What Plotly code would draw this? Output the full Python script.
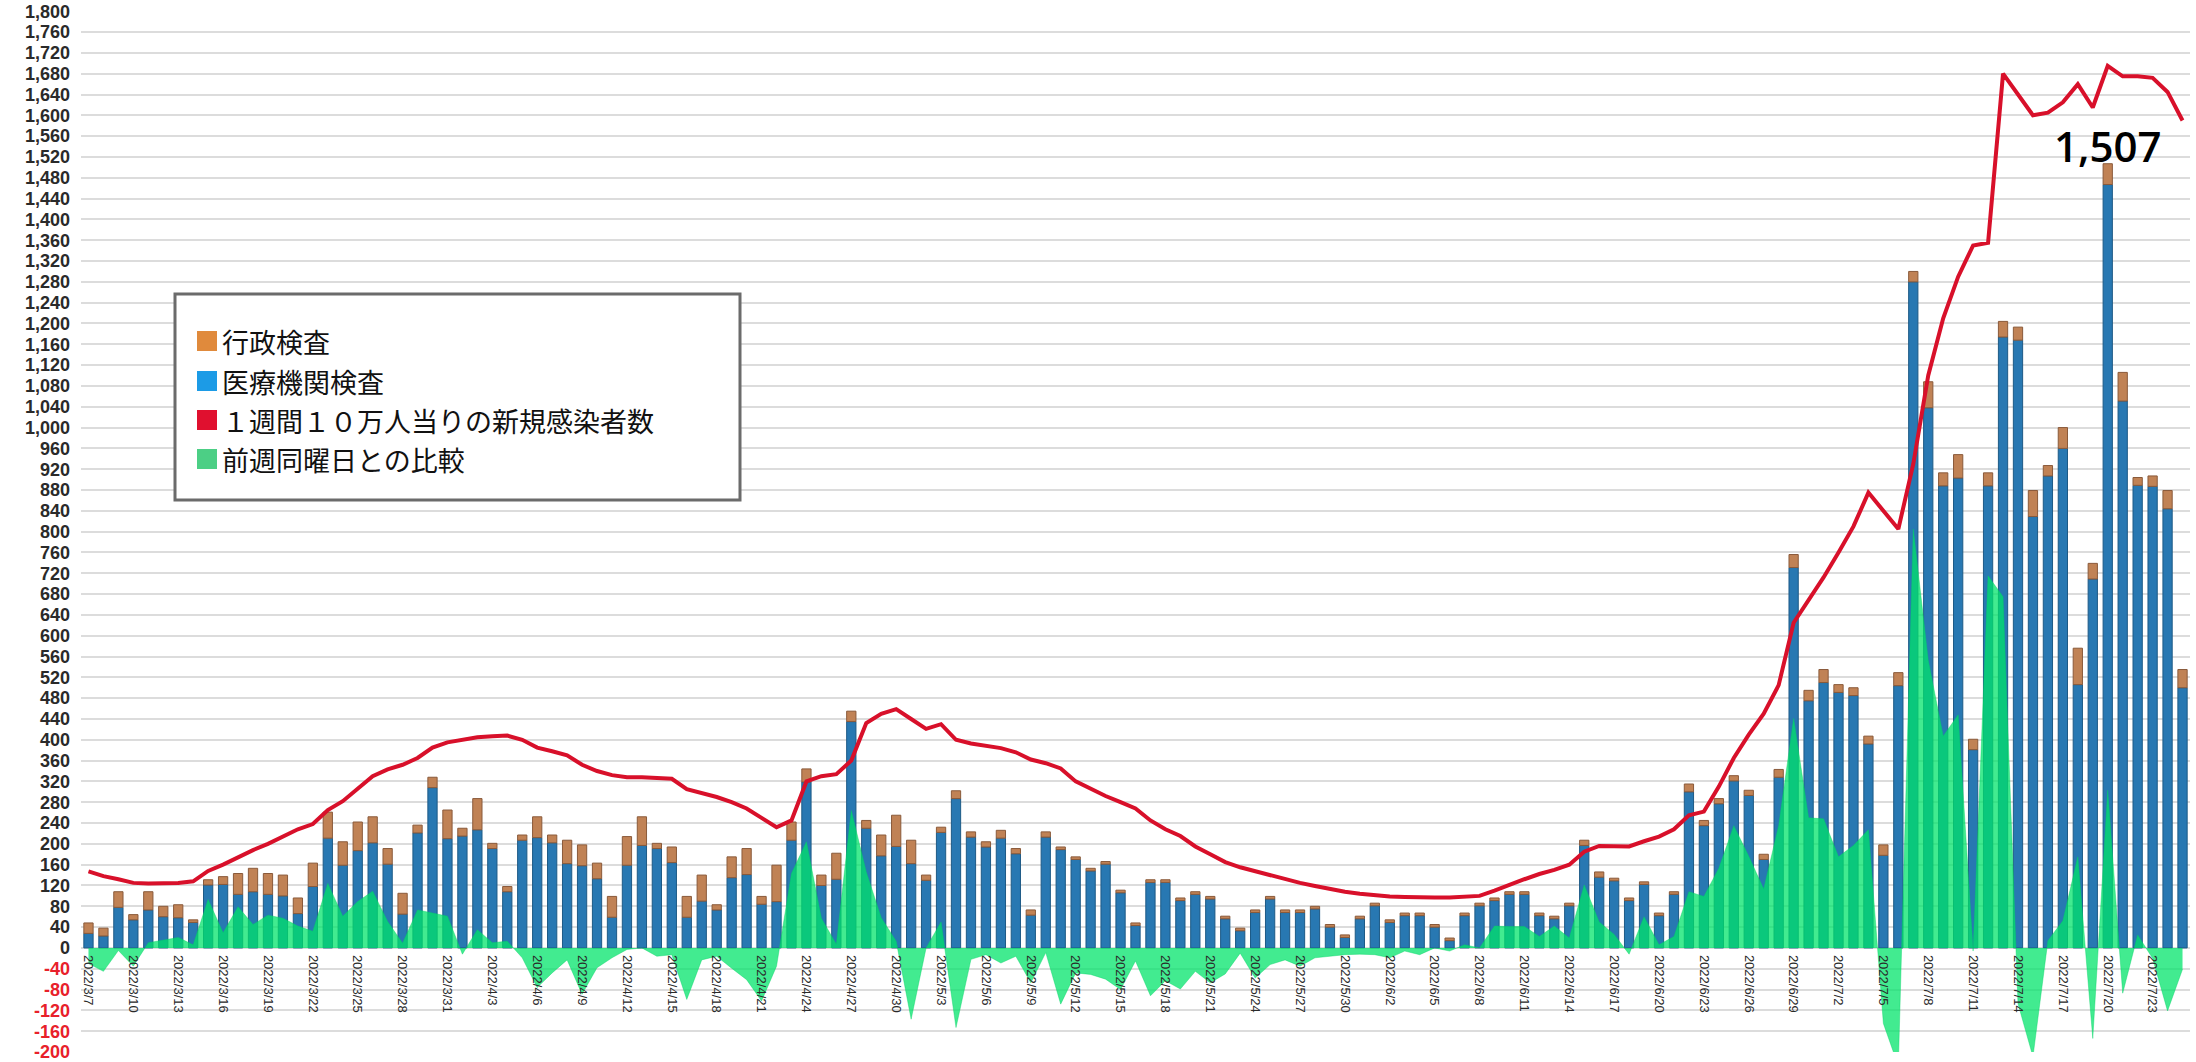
import plotly.graph_objects as go
import pandas as pd

# ---------------- data ----------------
start_date = "2022-03-07"
n_days = 141
dates = pd.date_range(start_date, periods=n_days, freq="D")
categories = [f"{d.year}/{d.month}/{d.day}" for d in dates]
tick_labels = categories[::3]

# 医療機関検査 (blue part of the bars)
medical = [
    28, 23, 78, 54, 73, 60, 58, 49, 121, 122, 103, 108, 103, 100, 66, 118, 211, 159, 187, 202,
    161, 65, 221, 308, 210, 215, 227, 191, 108, 207, 212, 202, 162, 158, 133, 59, 159,
    197, 191, 164, 59, 90, 73, 135, 141, 84, 89, 207, 319, 120, 132, 435, 230, 177, 195, 162,
    130, 222, 287, 213, 194, 211, 181, 63, 213, 189, 170, 148, 161, 106, 43, 126, 126, 91,
    103, 94, 56, 33, 68, 94, 68, 68, 75, 40, 20, 56, 81, 49, 62, 62, 40, 14, 62, 81,
    91, 103, 103, 62, 56, 81, 197, 136, 129, 91, 122, 62, 103, 300, 235, 277,
    321, 293, 170, 328, 731, 475, 510, 491, 485, 392, 178, 504, 1280, 1038, 888, 903, 381, 888,
    1174, 1168, 829, 907, 960, 506, 709, 1467, 1051, 889, 887, 844, 500,
]

# 行政検査 (orange part of the bars)
admin = [
    20, 15, 30, 10, 35, 20, 25, 5, 10, 15, 40, 45, 40, 40, 30, 45, 50, 45, 55, 50,
    30, 40, 15, 20, 55, 15, 60, 10, 10, 10, 40, 15, 45, 40, 30, 40, 55,
    55, 10, 30, 40, 50, 10, 40, 50, 15, 70, 35, 25, 20, 50, 20, 15, 40, 60, 45,
    10, 10, 15, 10, 10, 15, 10, 10, 10, 5, 5, 5, 5, 5, 5, 5, 5, 5,
    5, 5, 5, 5, 5, 5, 5, 5, 5, 5, 5, 5, 5, 5, 5, 5, 5, 5, 5, 5,
    5, 5, 5, 5, 5, 5, 10, 10, 5, 5, 5, 5, 5, 15, 10, 10,
    10, 10, 10, 15, 25, 20, 25, 15, 15, 15, 20, 25, 20, 50, 25, 45, 20, 25,
    30, 25, 50, 20, 40, 70, 30, 40, 55, 15, 20, 35, 35,
]

# １週間１０万人当りの新規感染者数 (red line)
weekly_per_100k = [
    147, 138, 132, 125, 124, 124, 125, 128, 148, 160, 175, 188, 200, 215, 228, 238, 265, 282, 305, 330,
    343, 352, 365, 385, 395, 400, 405, 407, 408, 400, 385, 378, 370, 352, 340, 332, 328,
    328, 326, 325, 305, 298, 290, 280, 268, 250, 232, 245, 320, 330, 334, 360, 432, 450, 459, 440,
    421, 430, 400, 393, 389, 384, 376, 362, 355, 345, 320, 305, 292, 280, 268, 245, 228, 215,
    195, 180, 165, 155, 147, 140, 132, 125, 119, 113, 108, 104, 101, 99, 98, 97, 97, 97, 98, 100,
    110, 122, 132, 142, 150, 160, 185, 196, 195, 195, 205, 214, 228, 255, 262, 310,
    365, 410, 450, 505, 625, 668, 712, 760, 810, 875, 840, 805, 930, 1100, 1210, 1290, 1350, 1355,
    1680, 1640, 1600, 1605, 1625, 1660, 1615, 1695, 1675, 1675, 1672, 1645, 1590,
]

# 前週同曜日との比較 (green area)
vs_last_week = [
    -30, -45, -5, -35, 10, 15, 20,
    6, 93, 29, 79, 45, 63, 57, 42, 32, 124, 61, 89, 109, 51, 9, 73, 67, 61, -12, 35, 10, 13, -19,
    -76, -48, -23, -89, -38, -19, -3,
    0, -16, -13, -99, -23, -16, -39, -61, -102, -35, 143, 204, 57, 7, 264, 146, 58, 13, -137, 0,
    50, -153, -22, -13, -29, -16, -67, -9, -108, -48, -51, -60, -80, -25, -92, -63, -79, -45, -67, -50,
    -10, -58, -32, -23, -35, -19, -16, -13, -12, -13, -19, -6, -13, 0, -6, 6, 0, 42, 41, 41,
    22, 42, 19, 121, 50, 26, -12, 60, 6, 22,
    108, 99, 153, 235, 176, 113, 235, 441, 250, 248, 175, 197, 227, -145, -227, 805, 553, 407, 448, -6,
    715, 675, -107, -209, 14, 52, 175, -174, 303, -87, 25, -20, -121, -41,
]

peak_index = 135

y_ticks = list(range(-200, 1801, 40))

legend_names = ["行政検査", "医療機関検査", "１週間１０万人当りの新規感染者数", "前週同曜日との比較"]
legend_colors = ["#e08a3c", "#1c9be6", "#e0102f", "#4ccf85"]

# ---------------- layout geometry ----------------
W, H = 2196, 1062
ML, MR, MT, MB = 81, 6, 11, 10
PW, PH = W - ML - MR, H - MT - MB


def px_x(x):
    return (x - ML) / PW


def px_y(y):
    return (H - MB - y) / PH


fig = go.Figure()

fig.add_trace(go.Bar(x=categories, y=medical, name=legend_names[1],
                     marker=dict(color="#2878b2", line=dict(color="#1d5a86", width=1)),
                     showlegend=False))
fig.add_trace(go.Bar(x=categories, y=admin, name=legend_names[0],
                     marker=dict(color="#c08255", line=dict(color="#8a5a3a", width=1)),
                     showlegend=False))
fig.add_trace(go.Scatter(x=categories, y=vs_last_week, name=legend_names[3], mode="lines",
                         fill="tozeroy", fillcolor="rgba(0,228,105,0.74)",
                         line=dict(color="rgba(0,210,100,0.8)", width=0.5), showlegend=False))
fig.add_trace(go.Scatter(x=categories, y=weekly_per_100k, name=legend_names[2], mode="lines",
                         line=dict(color="#d8102a", width=4), showlegend=False))

y_ticktext = [f"<span style='color:#e8202a'>{v}</span>" if v < 0 else f"{v:,}" for v in y_ticks]

fig.update_layout(
    width=W, height=H,
    margin=dict(l=ML, r=MR, t=MT, b=MB, pad=0, autoexpand=False),
    paper_bgcolor="white", plot_bgcolor="white",
    barmode="relative", bargap=0.38,
    showlegend=False,
    xaxis=dict(type="category", range=[-0.5, n_days - 0.5], anchor="free", position=0.1,
               tickmode="array", tickvals=tick_labels, ticktext=tick_labels,
               tickangle=90, tickfont=dict(family="Liberation Sans, Arial", size=13, color="#2a2a2a"),
               showgrid=False, showline=False, zeroline=False, ticks="", ticklabelstandoff=6,
               automargin=False),
    yaxis=dict(range=[-200, 1800.5], tickmode="array", tickvals=y_ticks, ticktext=y_ticktext,
               tickfont=dict(family="Liberation Sans, Arial", size=18, color="#2a2a2a", weight="bold"),
               showgrid=True, gridcolor="#dcdcdc", gridwidth=2, zeroline=False,
               showline=False, ticks="", ticklabelstandoff=10, ticklabeloverflow="allow",
               automargin=False),
)

# value label on the highest bar
fig.add_annotation(x=categories[peak_index], y=medical[peak_index] + admin[peak_index],
                   text=f"{medical[peak_index] + admin[peak_index]:,}", showarrow=False,
                   xanchor="center", yanchor="bottom", yshift=-12,
                   font=dict(family="Open Sans, Noto Sans", size=42, color="black", weight=600))

# legend box (drawn like the reference)
fig.add_shape(type="rect", xref="paper", yref="paper",
              x0=px_x(175), x1=px_x(740), y0=px_y(500), y1=px_y(294),
              fillcolor="white", line=dict(color="#6b6b6b", width=3), layer="above")
rows = [341, 381, 420, 459]
for name, color, ry in zip(legend_names, legend_colors, rows):
    fig.add_shape(type="rect", xref="paper", yref="paper",
                  x0=px_x(197), x1=px_x(217), y0=px_y(ry + 10), y1=px_y(ry - 10),
                  fillcolor=color, line=dict(width=0), layer="above")
    fig.add_annotation(xref="paper", yref="paper", x=px_x(220), y=px_y(ry), text=name,
                       showarrow=False, xanchor="left", yanchor="middle",
                       font=dict(family="Noto Sans CJK JP", size=27, color="#111"))

fig.write_html("out.html", config={"displayModeBar": False},
               post_script="document.body.style.margin='0';document.body.style.overflow='hidden';")
